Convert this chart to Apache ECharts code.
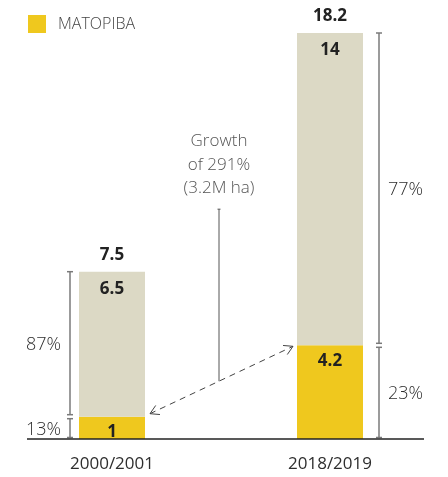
<!DOCTYPE html>
<html><head><meta charset="utf-8">
<script src="https://cdn.jsdelivr.net/npm/echarts@6/dist/echarts.min.js"></script>
<style>html,body{margin:0;padding:0;background:#fff}#c{width:448px;height:477px}</style>
</head><body><div id="c"></div>
<script>
const categories = ['2000/2001', '2018/2019'];
const matopiba = [1, 4.2];
const otherArea = [6.5, 14];
const totals = [7.5, 18.2];
const shareMatopiba = ['13%', '23%'];
const shareOther = ['87%', '77%'];
const growthLines = ['Growth', 'of 291%', '(3.2M ha)'];
const legendLabel = 'MATOPIBA';
const otherLabel = 'Other';

const YELLOW = '#EFC81E', BEIGE = '#DCD9C5';
const FONT = "'Open Sans', 'Noto Sans', sans-serif";
const BAR_W = 66;
const BR_COLOR = '#7a7a7a';

const chart = echarts.init(document.getElementById('c'), null, {renderer: 'canvas'});

function txt(text, x, y, align, vAlign, font, fill, lineHeight) {
  const s = {text, x, y, align, textAlign: align, verticalAlign: vAlign, textVerticalAlign: vAlign, font, fill};
  if (lineHeight) s.lineHeight = lineHeight;
  return {type: 'text', style: s};
}
function seg(x1, y1, x2, y2, stroke, lw, dash) {
  const st = {stroke, lineWidth: lw};
  if (dash) st.lineDash = dash;
  return {type: 'line', shape: {x1, y1, x2, y2}, style: st};
}
function bracket(x, yTop, yBot) {
  const c = 3;
  return [
    seg(x, yTop, x, yBot, BR_COLOR, 1.5),
    seg(x - c, yTop, x + c, yTop, BR_COLOR, 1.5),
    seg(x - c, yBot, x + c, yBot, BR_COLOR, 1.5)
  ];
}

function renderShares(params, api) {
  const i = params.dataIndex;
  const base = api.coord([i, 0]);
  const mid = api.coord([i, matopiba[i]]);
  const top = api.coord([i, totals[i]]);
  const side = i === 0 ? -1 : 1;
  const gap = i === 0 ? 9 : 16;
  const x = base[0] + side * (BAR_W / 2 + gap);
  const children = [];
  children.push(...bracket(x, top[1], mid[1] - 2));
  children.push(...bracket(x, mid[1] + 2, base[1] - 1.5));
  const tx = x + side * 9;
  const align = side < 0 ? 'right' : 'left';
  const f = '300 18px ' + FONT;
  children.push(txt(shareOther[i], tx, (top[1] + mid[1]) / 2 + 1, align, 'middle', f, '#2e2e2e'));
  children.push(txt(shareMatopiba[i], tx, (mid[1] + base[1]) / 2 + 2, align, 'middle', f, '#2e2e2e'));
  children.push(txt(String(totals[i]), base[0], top[1] - 17, 'center', 'middle', 'bold 17px ' + FONT, '#222'));
  return {type: 'group', children};
}

function renderGrowth(params, api) {
  const b0 = api.coord([0, 0]);
  const b1 = api.coord([1, 0]);
  const p0 = api.coord([0, matopiba[0]]);
  const p1 = api.coord([1, matopiba[1]]);
  const sx = p0[0] + BAR_W / 2 + 5, sy = p0[1] - 3;
  const ex = p1[0] - BAR_W / 2 - 4, ey = p1[1] + 1;
  const dx = ex - sx, dy = ey - sy, len = Math.hypot(dx, dy);
  const ux = dx / len, uy = dy / len;
  const L = 10, a = Math.PI / 6;
  const rot = (x, y, t) => [x * Math.cos(t) - y * Math.sin(t), x * Math.sin(t) + y * Math.cos(t)];
  const children = [];
  children.push(seg(b0[0] - 85, b0[1], b1[0] + 94, b1[1], '#222', 1.5));
  children.push(seg(sx, sy, ex, ey, '#444', 1, [6, 5]));
  [a, -a].forEach(t => {
    const r = rot(ux, uy, t);
    children.push(seg(ex, ey, ex - L * r[0], ey - L * r[1], '#444', 1));
    children.push(seg(sx, sy, sx + L * r[0], sy + L * r[1], '#444', 1));
  });
  const mx = (p0[0] + p1[0]) / 2 - 2;
  const my = sy + (mx - sx) / dx * dy;
  const lineTop = my - 172;
  children.push(seg(mx, lineTop, mx, my, '#555', 1));
  children.push(seg(mx - 1.5, lineTop, mx + 1.5, lineTop, '#555', 1));
  children.push(txt(growthLines.join('\n'), mx, lineTop - 9, 'center', 'bottom', '300 17px ' + FONT, '#555', 23.5));
  return {type: 'group', children};
}

chart.setOption({
  animation: false,
  backgroundColor: '#fff',
  legend: {
    data: [legendLabel], left: 28, top: 15, padding: 0,
    icon: 'rect', itemWidth: 18, itemHeight: 18,
    textStyle: {fontFamily: FONT, fontSize: 16, fontWeight: 300, color: '#444', padding: [0, 0, 0, 7]}
  },
  grid: {left: 3, right: 9, top: 33, bottom: 38},
  xAxis: {
    type: 'category', data: categories,
    axisLine: {show: false}, axisTick: {show: false},
    axisLabel: {fontFamily: FONT, fontSize: 17, color: '#2e2e2e', margin: 17}
  },
  yAxis: {type: 'value', min: 0, max: 18.2, show: false, splitLine: {show: false}},
  series: [
    {
      name: legendLabel, type: 'bar', stack: 'a', barWidth: BAR_W, data: matopiba,
      itemStyle: {color: YELLOW},
      label: {show: true, position: 'insideTop', distance: 7, fontFamily: FONT, fontWeight: 'bold', fontSize: 17, color: '#222'}
    },
    {
      name: otherLabel, type: 'bar', stack: 'a', barWidth: BAR_W, data: otherArea,
      itemStyle: {color: BEIGE},
      label: {show: true, position: 'insideTop', distance: 9, fontFamily: FONT, fontWeight: 'bold', fontSize: 17, color: '#222'}
    },
    {type: 'custom', renderItem: renderShares, data: categories.map((c, i) => [i, totals[i]]), z: 5, silent: true},
    {type: 'custom', renderItem: renderGrowth, data: [[0, 0]], z: 6, silent: true}
  ]
});
</script></body></html>
